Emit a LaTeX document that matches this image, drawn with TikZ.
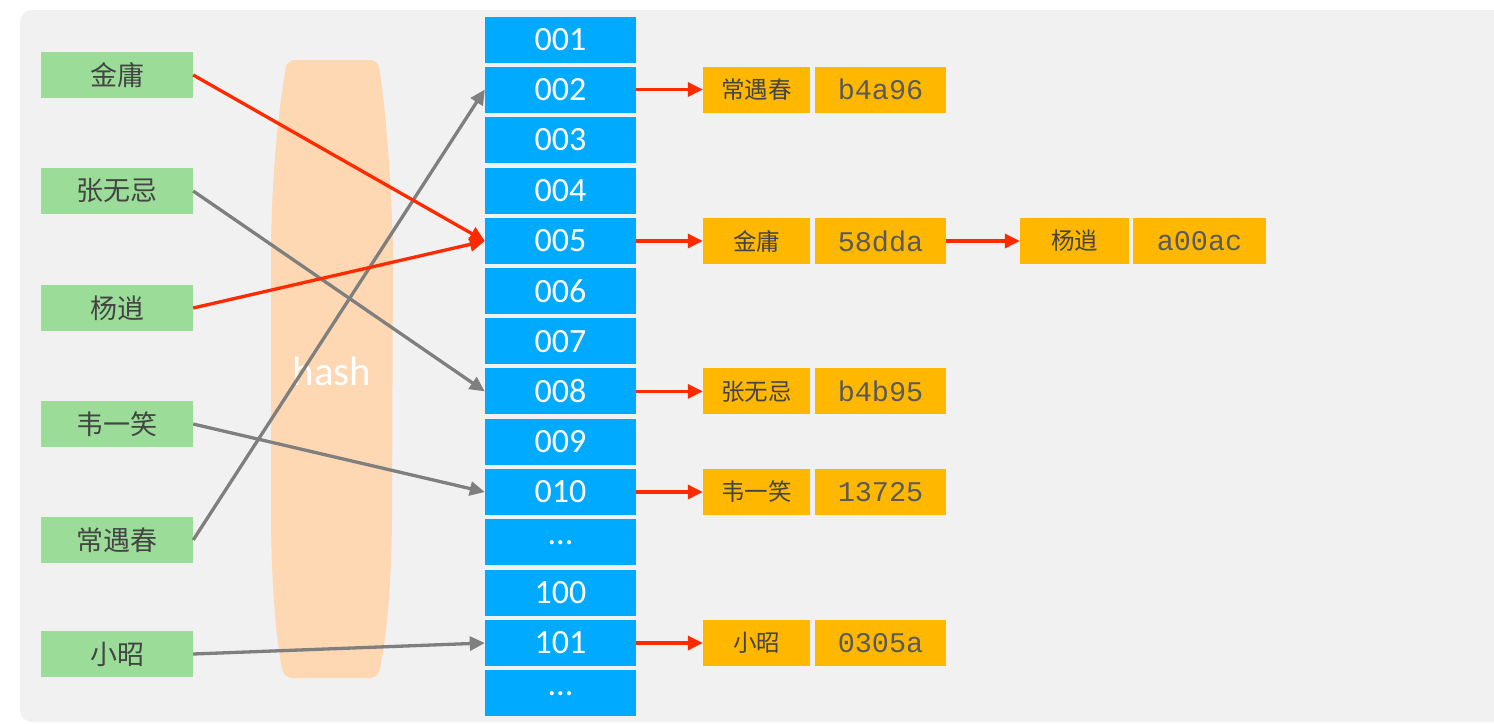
\documentclass[tikz,border=0pt]{standalone}
\usepackage{fontspec}
\setmainfont{Carlito}
\newfontfamily\cjk{Noto Sans CJK SC}
\newfontfamily\monof{Liberation Mono}
\usetikzlibrary{arrows.meta}
\definecolor{bgc}{HTML}{F1F1F1}
\definecolor{greenc}{HTML}{9BDD98}
\definecolor{bluec}{HTML}{00AAFF}
\definecolor{orangec}{HTML}{FFB700}
\definecolor{peach}{HTML}{FDD8B3}
\definecolor{redc}{HTML}{FF2A00}
\definecolor{greyc}{HTML}{7F7F7F}
\definecolor{txtc}{HTML}{444444}
\definecolor{valc}{HTML}{5A5A5A}
\tikzset{
  keybox/.style={fill=greenc, minimum width=152pt, minimum height=46pt, inner sep=0pt, text=txtc, font=\cjk\fontsize{27}{30}\selectfont},
  cellbox/.style={fill=bluec, minimum width=151pt, minimum height=46pt, inner sep=0pt, text=white, font=\fontsize{34}{38}\selectfont},
  namebox/.style={fill=orangec, minimum height=46pt, inner sep=0pt, text=txtc, font=\cjk\fontsize{23.5}{26}\selectfont},
  valbox/.style={fill=orangec, minimum height=46pt, inner sep=0pt, text=valc, font=\monof\fontsize{28.5}{30}\selectfont},
  redarrow/.style={draw=redc, line width=3.3pt, -{Triangle[length=15pt,width=14pt]}},
  greyarrow/.style={draw=greyc, line width=3.3pt, -{Triangle[length=15pt,width=14pt]}},
}
\begin{document}
\begin{tikzpicture}[x=1pt,y=-1pt]
\useasboundingbox (0,0) rectangle (1494,723);
\fill[white] (0,0) rectangle (1494,723);
\fill[bgc, rounded corners=12pt] (20,10) rectangle (1520,722);
% hash shape
\fill[peach, rounded corners=8pt] (287,60) .. controls (277,120) and (272,180) .. (271,250) -- (271,520) .. controls (272,600) and (278,650) .. (284,678) -- (378,678) .. controls (386,640) and (391,590) .. (392,520) -- (393,250) .. controls (391,180) and (386,110) .. (378,60) -- cycle;
\node[text=white, font=\fontsize{41}{44}\selectfont] (hash) at (332,371) {hash};
% keys
\node[keybox] (k1) at (117,75) {金庸};
\node[keybox] (k2) at (117,191) {张无忌};
\node[keybox] (k3) at (117,308) {杨逍};
\node[keybox] (k4) at (117,424) {韦一笑};
\node[keybox] (k5) at (117,540) {常遇春};
\node[keybox] (k6) at (117,654) {小昭};
% cells
\node[cellbox] (c1) at (560.5,40) {001};
\node[cellbox] (c2) at (560.5,89.5) {002};
\node[cellbox] (c3) at (560.5,140) {003};
\node[cellbox] (c4) at (560.5,190.5) {004};
\node[cellbox] (c5) at (560.5,241) {005};
\node[cellbox] (c6) at (560.5,291) {006};
\node[cellbox] (c7) at (560.5,341.2) {007};
\node[cellbox] (c8) at (560.5,391.4) {008};
\node[cellbox] (c9) at (560.5,441.6) {009};
\node[cellbox] (c10) at (560.5,492) {010};
\node[cellbox] (c11) at (560.5,542.3) {...};
\node[cellbox] (c12) at (560.5,592.6) {100};
\node[cellbox] (c13) at (560.5,643) {101};
\node[cellbox] (c14) at (560.5,693.3) {...};
% entries
\node[namebox, minimum width=107pt] (n2) at (756.5,89.5) {常遇春};
\node[valbox, minimum width=131pt] (v2) at (880.5,89.5) {b4a96};
\node[namebox, minimum width=107pt] (n5) at (756.5,241) {金庸};
\node[valbox, minimum width=131pt] (v5) at (880.5,241) {58dda};
\node[namebox, minimum width=109pt] (n5b) at (1074.5,241) {杨逍};
\node[valbox, minimum width=133pt] (v5b) at (1199.5,241) {a00ac};
\node[namebox, minimum width=107pt] (n8) at (756.5,391.4) {张无忌};
\node[valbox, minimum width=131pt] (v8) at (880.5,391.4) {b4b95};
\node[namebox, minimum width=107pt] (n10) at (756.5,492) {韦一笑};
\node[valbox, minimum width=131pt] (v10) at (880.5,492) {13725};
\node[namebox, minimum width=107pt] (n13) at (756.5,643) {小昭};
\node[valbox, minimum width=131pt] (v13) at (880.5,643) {0305a};
% key -> cell arrows
\draw[greyarrow] (k2.east) -- (c8.west);
\draw[greyarrow] (k4.east) -- (c10.west);
\draw[greyarrow] (k5.east) -- (c2.west);
\draw[greyarrow] (k6.east) -- (c13.west);
\draw[redarrow] (k1.east) -- (c5.west);
\draw[redarrow] (k3.east) -- (c5.west);
% cell -> entry arrows
\draw[redarrow] (c2.east) -- (n2.west);
\draw[redarrow] (c5.east) -- (n5.west);
\draw[redarrow] (v5.east) -- (n5b.west);
\draw[redarrow] (c8.east) -- (n8.west);
\draw[redarrow] (c10.east) -- (n10.west);
\draw[redarrow] (c13.east) -- (n13.west);
\end{tikzpicture}
\end{document}
